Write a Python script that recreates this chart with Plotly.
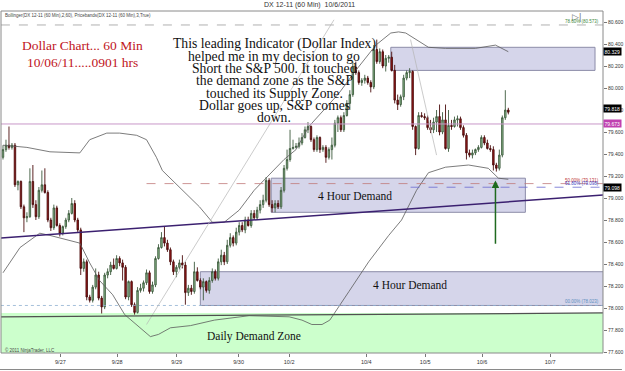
import plotly.graph_objects as go

# ---------------- data ----------------
opens = [79.37,79.44,79.48,79.46,79.48,79.12,79.15,78.92,78.82,78.83,
         79.15,78.94,78.83,79.07,79.12,79.05,78.80,78.73,78.91,78.75,
         78.68,78.74,78.80,78.86,78.95,78.80,78.71,78.36,78.42,78.10,
         78.07,78.19,78.30,78.09,78.01,78.30,78.33,78.39,78.36,78.45,
         78.41,78.37,78.10,78.24,78.03,77.96,78.16,78.18,78.23,78.32,
         78.15,78.21,78.45,78.55,78.64,78.59,78.53,78.42,78.33,78.37,
         78.41,78.39,78.14,78.18,78.15,78.33,78.25,78.19,78.24,78.16,
         78.25,78.33,78.27,78.42,78.48,78.42,78.57,78.64,78.59,78.69,
         78.75,78.71,78.80,78.75,78.86,78.82,78.89,78.94,78.98,79.16,
         78.94,78.91,78.95,78.92,79.07,79.27,79.35,79.45,79.46,79.47,
         79.50,79.55,79.62,79.65,79.53,79.44,79.55,79.44,79.46,79.37,
         79.44,79.48,79.68,79.73,79.62,79.75,79.86,79.94,80.19,80.14,
         80.05,80.07,80.09,80.05,80.01,80.35,80.24,80.33,80.20,80.27,
         80.28,80.16,79.89,79.85,79.92,80.09,80.14,80.15,79.65,79.45,
         79.75,79.74,79.73,79.64,79.62,79.69,79.74,79.60,79.71,79.45,
         79.66,79.65,79.71,79.72,79.64,79.57,79.41,79.39,79.41,79.44,
         79.46,79.55,79.50,79.45,79.44,79.30,79.27,79.39,79.73,79.80]
closes = [79.44,79.48,79.46,79.48,79.12,79.15,78.92,78.82,78.83,79.15,
          78.94,78.83,79.07,79.12,79.05,78.80,78.73,78.91,78.75,78.68,
          78.74,78.80,78.86,78.95,78.80,78.71,78.36,78.42,78.10,78.07,
          78.19,78.30,78.09,78.01,78.30,78.33,78.39,78.36,78.45,78.41,
          78.37,78.10,78.24,78.03,77.96,78.16,78.18,78.23,78.32,78.15,
          78.21,78.45,78.55,78.64,78.59,78.53,78.42,78.33,78.37,78.41,
          78.39,78.14,78.18,78.15,78.33,78.25,78.19,78.24,78.16,78.25,
          78.33,78.27,78.42,78.48,78.42,78.57,78.64,78.59,78.69,78.75,
          78.71,78.80,78.75,78.86,78.82,78.89,78.94,78.98,79.16,78.94,
          78.91,78.95,78.92,79.07,79.27,79.35,79.45,79.46,79.47,79.50,
          79.55,79.62,79.65,79.53,79.44,79.55,79.44,79.46,79.37,79.44,
          79.48,79.68,79.73,79.62,79.75,79.86,79.94,80.19,80.14,80.05,
          80.07,80.09,80.05,80.01,80.35,80.24,80.33,80.20,80.27,80.28,
          80.16,79.89,79.85,79.92,80.09,80.14,80.15,79.65,79.45,79.75,
          79.74,79.73,79.64,79.62,79.69,79.74,79.60,79.71,79.45,79.66,
          79.65,79.71,79.72,79.64,79.57,79.41,79.39,79.41,79.44,79.46,
          79.55,79.50,79.45,79.44,79.30,79.27,79.39,79.73,79.80,79.78]
highs = [79.48,79.53,79.65,79.50,79.50,79.16,79.16,78.94,78.87,79.27,
         79.30,78.98,79.10,79.25,79.27,79.07,78.82,78.94,78.93,78.77,
         78.75,78.82,78.89,79.00,78.98,78.82,78.73,78.45,78.44,78.12,
         78.21,78.36,78.33,78.11,78.32,78.36,78.42,78.45,78.48,78.47,
         78.44,78.39,78.25,78.25,78.05,78.19,78.22,78.25,78.35,78.34,
         78.24,78.47,78.58,78.69,78.74,78.62,78.55,78.44,78.39,78.44,
         78.48,78.42,78.21,78.21,78.42,78.37,78.27,78.27,78.25,78.28,
         78.36,78.35,78.45,78.53,78.51,78.62,78.68,78.66,78.73,78.78,
         78.78,78.83,78.83,78.89,78.89,78.92,78.98,79.03,79.19,79.18,
         78.98,78.98,78.98,79.10,79.30,79.44,79.62,79.53,79.50,79.55,
         79.59,79.65,79.69,79.66,79.55,79.57,79.56,79.48,79.48,79.46,
         79.55,79.71,79.75,79.75,79.78,79.89,79.98,80.24,80.24,80.16,
         80.09,80.12,80.11,80.07,80.39,80.44,80.36,80.35,80.30,80.30,
         80.33,80.21,79.94,79.94,80.12,80.16,80.18,80.16,79.66,79.78,
         79.78,79.77,79.75,79.71,79.73,79.80,79.85,79.78,79.85,79.80,
         79.71,79.74,79.75,79.74,79.66,79.59,79.44,79.44,79.45,79.48,
         79.57,79.57,79.53,79.48,79.47,79.32,79.44,79.75,79.98,79.82]
lows = [79.35,79.42,79.44,79.44,79.10,79.07,78.90,78.69,78.78,78.82,
        78.91,78.80,78.81,79.05,79.04,78.78,78.70,78.71,78.74,78.65,
        78.66,78.72,78.78,78.85,78.78,78.69,78.30,78.33,78.07,78.05,
        78.05,78.17,78.07,77.95,77.99,78.27,78.30,78.35,78.35,78.38,
        78.25,78.08,78.07,78.01,77.94,77.95,78.14,78.15,78.21,78.13,
        78.13,78.19,78.44,78.54,78.56,78.51,78.39,78.30,78.28,78.35,
        78.36,78.03,78.11,78.12,78.13,78.24,78.17,78.07,78.14,78.13,
        78.23,78.25,78.25,78.39,78.39,78.40,78.55,78.56,78.57,78.66,
        78.69,78.68,78.74,78.73,78.80,78.80,78.86,78.91,78.96,78.92,
        78.87,78.87,78.90,78.90,79.05,79.25,79.33,79.44,79.45,79.45,
        79.48,79.54,79.59,79.51,79.42,79.42,79.41,79.42,79.32,79.35,
        79.35,79.46,79.60,79.60,79.60,79.74,79.80,79.92,80.12,80.03,
        80.02,80.04,80.03,79.96,79.99,80.22,80.22,80.18,80.15,80.23,
        80.15,79.86,79.80,79.83,79.89,80.07,80.09,79.62,79.39,79.44,
        79.73,79.71,79.62,79.59,79.59,79.60,79.57,79.58,79.44,79.42,
        79.62,79.64,79.65,79.62,79.55,79.35,79.37,79.36,79.39,79.42,
        79.45,79.48,79.44,79.42,79.25,79.24,79.25,79.37,79.71,79.76]
bars = list(range(len(closes)))

# Bollinger bands (bar index, price)
bb_upper_x = [0, 8, 15.7, 25.7, 29, 34.7, 39, 44.7, 48, 51.3, 53.3, 59, 65.7, 70, 74, 79, 84, 89, 94, 98,
              102.3, 112.3, 118, 124.7, 129.7, 132.3, 134.7, 142.3, 148, 158, 164.7, 169]
bb_upper_y = [79.48, 79.46, 79.42, 79.41, 79.53, 79.59, 79.59, 79.57, 79.53, 79.37, 79.25, 79.10, 78.92, 78.78,
              78.78, 78.89, 79.07, 79.21, 79.35, 79.44, 79.65, 79.95, 80.16, 80.39, 80.50, 80.51, 80.50, 80.37,
              80.36, 80.36, 80.39, 80.33]
bb_lower_x = [0, 5.7, 12.3, 15.7, 25.7, 29, 32.3, 36.7, 40.7, 43.7, 49.3, 52, 56, 62.7, 70.7, 82.3, 95.7, 100,
              103.3, 106.7, 109.3, 115.7, 122.3, 129, 133.3, 138.3, 142.3, 148, 155.7, 162.3, 165.7, 169]
bb_lower_y = [78.32, 78.55, 78.68, 78.66, 78.59, 78.41, 78.25, 78.12, 77.94, 77.87, 77.74, 77.76, 77.82, 77.84,
              77.89, 77.93, 77.92, 77.89, 77.85, 77.85, 77.89, 78.15, 78.42, 78.66, 78.80, 79.07, 79.23, 79.28,
              79.30, 79.27, 79.18, 79.17]

# x-axis day labels (bar index of first bar of day)
day_ticks = [19.2, 38.2, 58.1, 78.8, 95.7, 121.5, 141.2, 160.2, 183.0]
day_labels = ["9/27", "9/28", "9/29", "9/30", "10/2", "10/4", "10/5", "10/6", "10/7"]

# price axis
y_ticks = [77.6, 77.8, 78.0, 78.2, 78.4, 78.6, 78.8, 79.0, 79.2, 79.4, 79.6, 79.8, 80.0, 80.2, 80.4, 80.6]

# zones (x0 bar, x1 bar, y0 price, y1 price)
supply_zone = [129.7, 198.0, 80.16, 80.37]
demand_4h_upper = [89.7, 174.7, 78.87, 79.18]
demand_4h_lower = [66.0, 200.8, 78.023, 78.33]
daily_zone_top = 77.955

# fibonacci levels
fib_levels = [80.573, 79.131, 79.098, 78.023]
fib_names = ["78.60% (80.573)", "50.00% (79.131)", "61.80% (79.098)", "00.00% (78.023)"]
fib_start = [-0.7, 48.0, 136.3, -0.7]

magenta_level = 79.673
last_price = 79.818
purple_line = [(-0.7, 78.636), (200.8, 79.027)]
rise_line = [(48.0, 77.85), (110.7, 80.62)]
fall_line = [(136.3, 80.44), (145.0, 79.39)]
zone_edge_line = [(-0.7, 77.92), (200.8, 77.955)]
arrow_bar = 164.7
arrow_from, arrow_to = 78.57, 79.16

XR = [-0.667, 200.667]
YR = [77.591, 80.70]

# ---------------- figure ----------------
W, H = 625, 371
ML, MR, MT, MB = 1, 20, 11, 18
PW, PH = W - ML - MR, H - MT - MB


def px(x):
    return (x - ML) / PW


def py(y):
    return (H - MB - y) / PH


fig = go.Figure()

fig.add_trace(go.Scatter(x=bb_upper_x, y=bb_upper_y, mode="lines",
                         line=dict(color="#5a5a5a", width=0.8), hoverinfo="skip", showlegend=False))
fig.add_trace(go.Scatter(x=bb_lower_x, y=bb_lower_y, mode="lines",
                         line=dict(color="#5a5a5a", width=0.8), hoverinfo="skip", showlegend=False))

fig.add_trace(go.Candlestick(
    x=bars, open=opens, high=highs, low=lows, close=closes,
    increasing=dict(line=dict(color="#3d5a3d", width=0.9), fillcolor="#8fbf8f"),
    decreasing=dict(line=dict(color="#4a0c0c", width=0.9), fillcolor="#a01818"),
    whiskerwidth=0, showlegend=False))

shapes = []
# daily demand zone
shapes.append(dict(type="rect", xref="x", yref="y", x0=XR[0], x1=XR[1], y0=YR[0], y1=daily_zone_top,
                   fillcolor="#ccffcc", line=dict(width=0), layer="below"))
for z in (supply_zone, demand_4h_upper, demand_4h_lower):
    shapes.append(dict(type="rect", xref="x", yref="y", x0=z[0], x1=z[1], y0=z[2], y1=z[3],
                       fillcolor="#d5d5ea", line=dict(color="#8c8ca8", width=1), layer="below"))
# magenta horizontal
shapes.append(dict(type="line", xref="x", yref="y", x0=XR[0], x1=XR[1], y0=magenta_level, y1=magenta_level,
                   line=dict(color="#c898c8", width=1)))
# fib lines
fib_colors = ["#9a9a9a", "#c07a7a", "#6a6ad0", "#8fb0d0"]
fib_dash = ["dash", "dash", "dash", "dot"]
for lv, st, c, d in zip(fib_levels, fib_start, fib_colors, fib_dash):
    shapes.append(dict(type="line", xref="x", yref="y", x0=st, x1=XR[1], y0=lv, y1=lv,
                       line=dict(color=c, width=0.8, dash=d)))
# trend lines
for ln, c, w in ((purple_line, "#3b2070", 1.5), (rise_line, "#b4b4b4", 0.7),
                 (fall_line, "#b4b4b4", 0.7), (zone_edge_line, "#505050", 1.2)):
    shapes.append(dict(type="line", xref="x", yref="y", x0=ln[0][0], y0=ln[0][1], x1=ln[1][0], y1=ln[1][1],
                       line=dict(color=c, width=w)))
# plot frame and bottom border
shapes.append(dict(type="rect", xref="paper", yref="paper", x0=0, x1=1, y0=0, y1=1,
                   line=dict(color="#8a8a8a", width=1)))
shapes.append(dict(type="line", xref="paper", yref="paper", x0=px(0), x1=px(624), y0=py(369.5), y1=py(369.5),
                   line=dict(color="#8a8a8a", width=1)))

ann = []
serif = "Liberation Serif, Times New Roman, serif"
sans = "Liberation Sans, Arial, sans-serif"


def txt(x, y, t, size, color, family, xa="center"):
    return dict(xref="paper", yref="paper", x=px(x), y=py(y), text=t, showarrow=False,
                xanchor=xa, yanchor="middle", font=dict(family=family, size=size, color=color))


ann.append(txt(311, 5, "DX 12-11 (60 Min)  10/6/2011", 7, "#333", sans))
ann.append(txt(3, 15.5, "Bollinger(DX 12-11 (60 Min),2,60), Pricebands(DX 12-11 (60 Min),3,True)",
               4.5, "#444", sans, "left"))
ann.append(txt(578, 17, "▷|", 9, "#777", sans))
ann.append(txt(3, 349.5, "© 2011 NinjaTrader, LLC", 4.5, "#444", sans, "left"))

red_lines = [("Dollar Chart... 60 Min", 45), ("10/06/11.....0901 hrs", 62)]
for t, yy in red_lines:
    ann.append(txt(82.5, yy, t, 13.5, "#c0141c", serif))
black_lines = ["This leading Indicator (Dollar Index)", "helped me in my decision to go",
               "Short the S&P 500. It touched", "the demand zone as the S&P",
               "touched its Supply Zone.", "Dollar goes up, S&P comes", "down."]
for k, t in enumerate(black_lines):
    ann.append(txt(275, 44 + 12.3 * k, t, 13.7, "#111", serif))

ann.append(txt(356, 196, "4 Hour Demand", 11.5, "#111", serif))
ann.append(txt(411, 285, "4 Hour Demand", 11.5, "#111", serif))
ann.append(txt(254.5, 336, "Daily Demand Zone", 11.5, "#111", serif))

fib_text_colors = ["#3f8a3f", "#c03a3a", "#3a3ac0", "#5f8fbf"]
for lv, nm, c in zip(fib_levels, fib_names, fib_text_colors):
    ann.append(dict(xref="paper", yref="y", x=px(603), y=lv, xanchor="right", yanchor="bottom", yshift=-1,
                    text=nm, showarrow=False, font=dict(family=sans, size=4.5, color=c)))

# arrow
ann.append(dict(xref="x", yref="y", x=arrow_bar, y=arrow_to, axref="x", ayref="y", ax=arrow_bar, ay=arrow_from,
                text="", showarrow=True, arrowhead=2, arrowsize=1, arrowwidth=1.5, arrowcolor="#1f6a1f"))

# price markers on the axis
for val, bg in ((80.329, "#000"), (last_price, "#000"), (magenta_level, "#c040b0"), (79.098, "#000")):
    ann.append(dict(xref="paper", yref="y", x=1.0, y=val, xanchor="left", yanchor="middle",
                    text=f"{val:.3f}", showarrow=False,
                    bgcolor=bg, borderpad=0.5, font=dict(family=sans, size=5, color="#fff")))

fig.update_layout(
    width=W, height=H, margin=dict(l=ML, r=MR, t=MT, b=MB),
    paper_bgcolor="white", plot_bgcolor="white",
    shapes=shapes, annotations=ann, showlegend=False,
    xaxis=dict(range=XR, showgrid=False, zeroline=False, rangeslider=dict(visible=False),
               tickvals=day_ticks, ticktext=day_labels, ticks="outside", ticklen=3, tickcolor="#777",
               tickfont=dict(family=sans, size=5.5, color="#333"), showline=False, fixedrange=True),
    yaxis=dict(range=YR, side="right", showgrid=False, zeroline=False,
               tickvals=y_ticks, ticktext=[f"{v:.3f}" for v in y_ticks], ticks="outside", ticklen=3,
               tickcolor="#777", tickfont=dict(family=sans, size=5, color="#333"), showline=False),
)

fig.write_html("out.html")
